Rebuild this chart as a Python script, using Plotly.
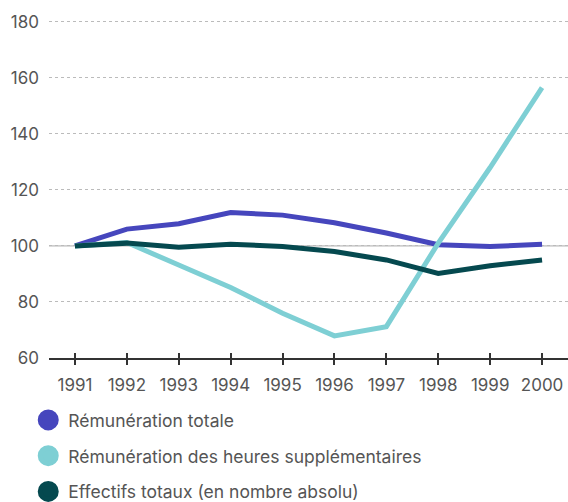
import plotly.graph_objects as go

years = [1991, 1992, 1993, 1994, 1995, 1996, 1997, 1998, 1999, 2000]
remuneration_totale = [100, 106, 107.9, 111.9, 111, 108.3, 104.6, 100.4, 99.8, 100.6]
heures_supp = [100, 101.2, 93.2, 85.2, 76, 67.9, 71.2, 101, 128, 156.5]
effectifs = [100, 101, 99.5, 100.6, 99.8, 98, 95, 90.2, 92.9, 95]

names = ["Rémunération totale", "Rémunération des heures supplémentaires",
         "Effectifs totaux (en nombre absolu)"]
colors = ["#4646BD", "#7ECFD4", "#05494F"]
series = [remuneration_totale, heures_supp, effectifs]
y_ticks = [60, 80, 100, 120, 140, 160, 180]

font_family = "Inter, Roboto, sans-serif"
text_color = "#555555"

fig = go.Figure()
for name, col, vals in zip(names, colors, series):
    fig.add_trace(go.Scatter(x=years, y=vals, mode="lines", name=name,
                             line=dict(color=col, width=5, shape="linear"),
                             showlegend=False, hoverinfo="skip"))
for i, (name, col) in enumerate(zip(names, colors)):
    fig.add_trace(go.Scatter(x=[None], y=[None], mode="markers", name=name,
                             marker=dict(color=col, size=16, symbol="circle",
                                         line=dict(color=col, width=5)),
                             legendgroup=f"g{i}", showlegend=True))

fig.add_hline(y=100, line=dict(color="#AAAAAA", width=1), layer="below")

fig.update_layout(
    width=568, height=502,
    margin=dict(l=49, r=0, t=19, b=144, autoexpand=False),
    plot_bgcolor="white", paper_bgcolor="white",
    font=dict(family=font_family, color=text_color, size=16),
    showlegend=True,
    legend=dict(x=-0.04, y=-0.13, xanchor="left", yanchor="top",
                orientation="v", tracegroupgap=10,
                font=dict(size=17.5, color=text_color, family=font_family),
                itemsizing="trace"),
    xaxis=dict(range=[1990.5, 2000.5], tickmode="array", tickvals=years,
               ticktext=[str(y) for y in years], automargin=False,
               showgrid=False, zeroline=False, showline=True,
               linecolor="#333333", linewidth=1.5,
               ticks="outside", ticklen=5, tickcolor="#333333", tickwidth=1.5,
               ticklabelstandoff=6,
               tickfont=dict(size=17, color=text_color)),
    xaxis2=dict(range=[1990.5, 2000.5], overlaying="x", tickmode="array",
                tickvals=years, ticktext=["" for _ in years], side="bottom",
                automargin=False,
                showgrid=False, zeroline=False, showline=False,
                ticks="inside", ticklen=5, tickcolor="#333333", tickwidth=1.5),
    yaxis=dict(range=[60, 181], tickmode="array", tickvals=y_ticks,
               automargin=False,
               showgrid=True, gridcolor="#BBBBBB", griddash="dot", gridwidth=1,
               zeroline=False, showline=False, ticks="",
               ticklabelstandoff=9,
               tickfont=dict(size=17, color=text_color)),
)
fig.add_trace(go.Scatter(x=[None], y=[None], xaxis="x2", showlegend=False,
                         hoverinfo="skip"))

fig.write_html("out.html", config={"displayModeBar": False},
               post_script="document.body.style.margin='0';"
                           "document.body.style.overflow='hidden';")
